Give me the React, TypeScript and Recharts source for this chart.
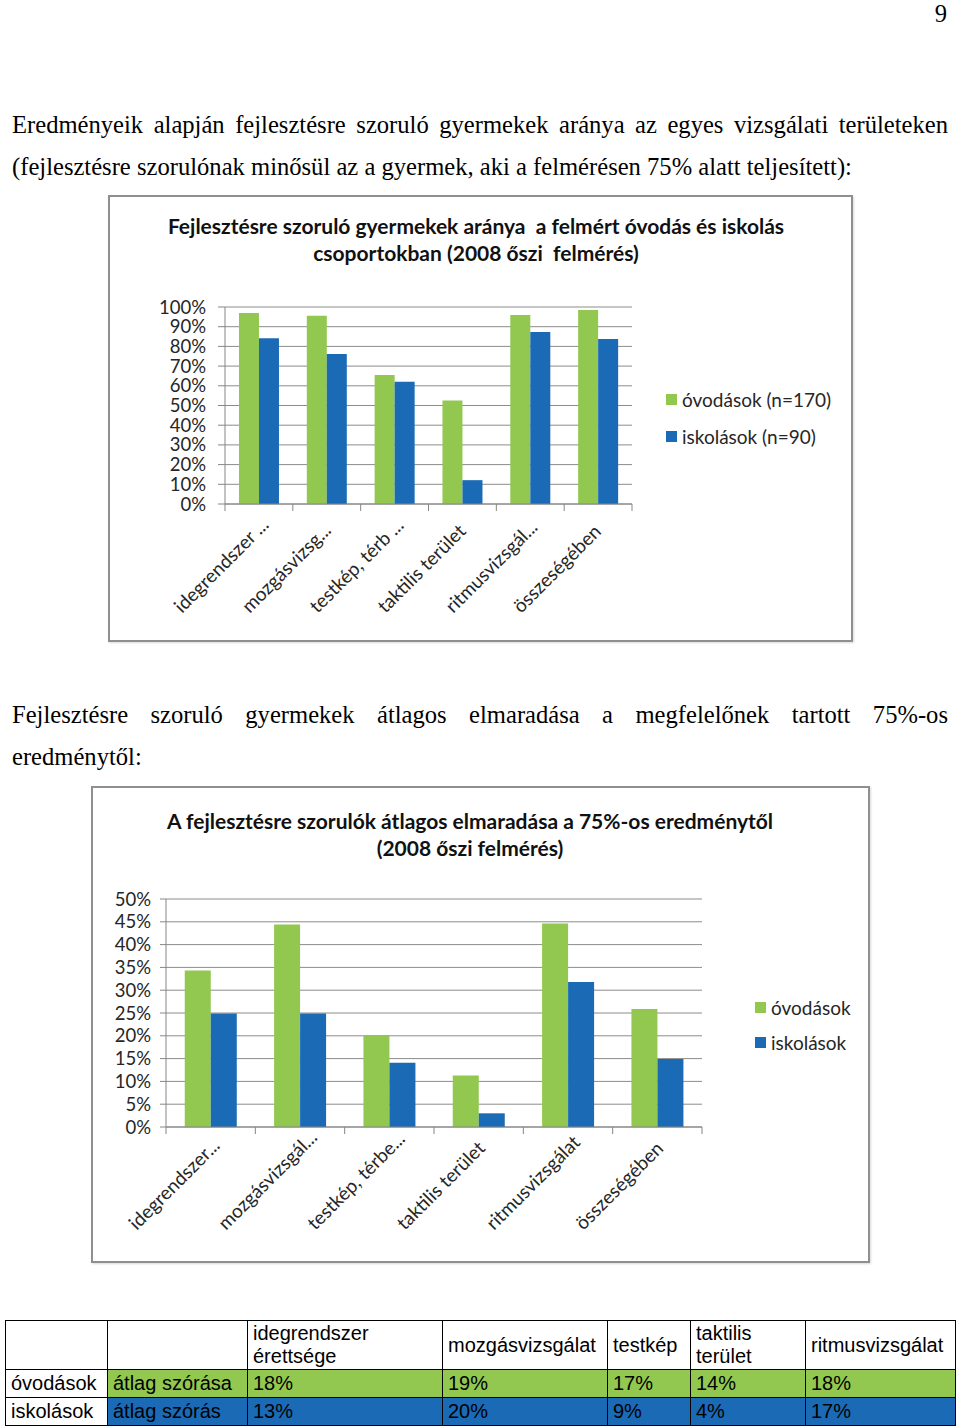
import React from "react";
import { BarChart, Bar, XAxis, YAxis, CartesianGrid } from "recharts";

// chart 1: share of children needing development
const chart1Categories = [
  "idegrendszer ...",
  "mozgásvizsg...",
  "testkép, térb ...",
  "taktilis terület",
  "ritmusvizsgál...",
  "összeségében",
];
const chart1Series = ["óvodások (n=170)", "iskolások (n=90)"];
const chart1Ovodasok = [0.97, 0.956, 0.655, 0.526, 0.959, 0.985];
const chart1Iskolasok = [0.842, 0.762, 0.621, 0.121, 0.873, 0.837];
const chart1Ticks = [0, 0.1, 0.2, 0.3, 0.4, 0.5, 0.6, 0.7, 0.8, 0.9, 1];

// chart 2: average shortfall from the 75% result
const chart2Categories = [
  "idegrendszer...",
  "mozgásvizsgál...",
  "testkép, térbe...",
  "taktilis terület",
  "ritmusvizsgálat",
  "összeségében",
];
const chart2Series = ["óvodások", "iskolások"];
const chart2Ovodasok = [0.343, 0.444, 0.202, 0.113, 0.446, 0.259];
const chart2Iskolasok = [0.249, 0.249, 0.141, 0.03, 0.318, 0.149];
const chart2Ticks = [0, 0.05, 0.1, 0.15, 0.2, 0.25, 0.3, 0.35, 0.4, 0.45, 0.5];

// table under the charts
const tableColumns = [
  ["idegrendszer", "érettsége"],
  ["mozgásvizsgálat"],
  ["testkép"],
  ["taktilis", "terület"],
  ["ritmusvizsgálat"],
];
const tableColWidths = [102, 140, 195, 165, 83, 115, 150];
const tableOvodasok = ["18%", "19%", "17%", "14%", "18%"];
const tableIskolasok = ["13%", "20%", "9%", "4%", "17%"];

const GREEN = "#92C850";
const BLUE = "#1A6AB6";
const AXIS = "#868686";
const GRID = "#8c8c8c";
const TEXT = "#262626";
const CHART_FONT = "Lato, 'Open Sans', sans-serif";
const SERIF = "'Liberation Serif', 'Times New Roman', serif";
const SERIF_SIZE = 24.6;

const pct = (v: number) => `${Math.round(v * 100)}%`;

function makeTick(band: number, count: number, dx: number, dy: number) {
  return (props: any) => {
    const { x, y, payload, index } = props;
    const tx = x + dx;
    const ty = y + dy;
    return (
      <g>
        <line x1={x - band / 2} x2={x - band / 2} y1={y} y2={y + 7} stroke={AXIS} />
        {index === count - 1 && (
          <line x1={x + band / 2} x2={x + band / 2} y1={y} y2={y + 7} stroke={AXIS} />
        )}
        <text
          x={tx}
          y={ty}
          transform={`rotate(-45, ${tx}, ${ty})`}
          textAnchor="start"
          fontSize={19}
          fill={TEXT}
          fontFamily={CHART_FONT}
        >
          {payload.value}
        </text>
      </g>
    );
  };
}

const LegendBox = ({ names, left, top, rowHeight }: any) => (
  <div
    style={{
      position: "absolute",
      left,
      top,
      fontFamily: CHART_FONT,
      fontSize: 19,
      color: TEXT,
    }}
  >
    {names.map((n: string, i: number) => (
      <div
        key={n}
        style={{ display: "flex", alignItems: "center", height: rowHeight, whiteSpace: "nowrap" }}
      >
        <span
          style={{
            width: 11,
            height: 11,
            background: i === 0 ? GREEN : BLUE,
            marginRight: 5,
            display: "inline-block",
          }}
        />
        {n}
      </div>
    ))}
  </div>
);

const Title = ({ lines, center, top }: { lines: string[]; center: number; top: number }) => (
  <div
    style={{
      position: "absolute",
      left: center - 400,
      width: 800,
      top,
      textAlign: "center",
      fontFamily: CHART_FONT,
      fontWeight: 700,
      fontSize: 21,
      lineHeight: "27px",
      color: "#111",
    }}
  >
    {lines.map((l) => (
      <div key={l} style={{ whiteSpace: "pre" }}>{l}</div>
    ))}
  </div>
);

const Frame = ({ left, top, width, height, children }: any) => (
  <div style={{ position: "absolute", left, top, width, height }}>
    <div
      style={{
        position: "absolute",
        inset: 0,
        border: "2px solid #8f8f8f",
        boxSizing: "border-box",
        boxShadow: "1px 1px 2px rgba(0,0,0,0.15)",
      }}
    />
    {children}
  </div>
);

function Chart1() {
  const data = chart1Categories.map((name, i) => ({
    name,
    ovodasok: chart1Ovodasok[i],
    iskolasok: chart1Iskolasok[i],
  }));
  const band = 407 / chart1Categories.length;
  return (
    <Frame left={108} top={195} width={745} height={447}>
      <Title
        lines={["Fejlesztésre szoruló gyermekek aránya  a felmért óvodás és iskolás", "csoportokban (2008 őszi  felmérés)"]}
        center={368}
        top={17}
      />
      <div style={{ position: "absolute", left: 0, top: 0 }}>
        <BarChart
          width={745}
          height={447}
          data={data}
          margin={{ top: 112, right: 221, bottom: 10, left: 47 }}
          barCategoryGap="20.6%"
          barGap={0}
        >
          <CartesianGrid vertical={false} stroke={GRID} />
          <XAxis
            dataKey="name"
            interval={0}
            height={128}
            tickSize={0}
            tickMargin={0}
            tickLine={false}
            axisLine={{ stroke: AXIS }}
            tick={makeTick(band, chart1Categories.length, -77, 110)}
          />
          <YAxis
            type="number"
            domain={[0, 1]}
            ticks={chart1Ticks}
            interval={0}
            width={70}
            tickSize={7}
            tickMargin={12}
            tickFormatter={pct}
            axisLine={{ stroke: AXIS }}
            tickLine={{ stroke: AXIS }}
            tick={{ fontSize: 18.5, fill: TEXT, fontFamily: CHART_FONT }}
          />
          <Bar dataKey="ovodasok" name={chart1Series[0]} fill={GREEN} isAnimationActive={false} />
          <Bar dataKey="iskolasok" name={chart1Series[1]} fill={BLUE} isAnimationActive={false} />
        </BarChart>
      </div>
      <LegendBox names={chart1Series} left={558} top={186} rowHeight={37} />
    </Frame>
  );
}

function Chart2() {
  const data = chart2Categories.map((name, i) => ({
    name,
    ovodasok: chart2Ovodasok[i],
    iskolasok: chart2Iskolasok[i],
  }));
  const band = 536 / chart2Categories.length;
  return (
    <Frame left={91} top={786} width={779} height={477}>
      <Title
        lines={["A fejlesztésre szorulók átlagos elmaradása a 75%-os eredménytől", "(2008 őszi felmérés)"]}
        center={379}
        top={21}
      />
      <div style={{ position: "absolute", left: 0, top: 0 }}>
        <BarChart
          width={779}
          height={477}
          data={data}
          margin={{ top: 113, right: 168, bottom: 10, left: 10 }}
          barCategoryGap="21%"
          barGap={0}
        >
          <CartesianGrid vertical={false} stroke={GRID} />
          <XAxis
            dataKey="name"
            interval={0}
            height={126}
            tickSize={0}
            tickMargin={0}
            tickLine={false}
            axisLine={{ stroke: AXIS }}
            tick={makeTick(band, chart2Categories.length, -74, 104)}
          />
          <YAxis
            type="number"
            domain={[0, 0.5]}
            ticks={chart2Ticks}
            interval={0}
            width={65}
            tickSize={6}
            tickMargin={9}
            tickFormatter={pct}
            axisLine={{ stroke: AXIS }}
            tickLine={{ stroke: AXIS }}
            tick={{ fontSize: 18.5, fill: TEXT, fontFamily: CHART_FONT }}
          />
          <Bar dataKey="ovodasok" name={chart2Series[0]} fill={GREEN} isAnimationActive={false} />
          <Bar dataKey="iskolasok" name={chart2Series[1]} fill={BLUE} isAnimationActive={false} />
        </BarChart>
      </div>
      <LegendBox names={chart2Series} left={664} top={203.5} rowHeight={35} />
    </Frame>
  );
}

const TextLine = ({ text, top, justify }: { text: string; top: number; justify?: boolean }) => (
  <div
    style={{
      position: "absolute",
      left: 12,
      width: 936,
      top,
      fontFamily: SERIF,
      fontSize: SERIF_SIZE,
      lineHeight: "26px",
      color: "#000",
      whiteSpace: "nowrap",
      textAlign: justify ? "justify" : "left",
      textAlignLast: justify ? "justify" : "left",
    }}
  >
    {text}
  </div>
);

function DataTable() {
  const cell: React.CSSProperties = {
    border: "1px solid #000",
    padding: "0 5px",
    textAlign: "left",
    verticalAlign: "middle",
    fontWeight: 400,
  };
  return (
    <table
      style={{
        position: "absolute",
        left: 5,
        top: 1320,
        width: 950,
        borderCollapse: "collapse",
        tableLayout: "fixed",
        fontFamily: "'Liberation Sans', Arial, sans-serif",
        fontSize: 20,
        lineHeight: "23px",
        color: "#000",
      }}
    >
      <colgroup>
        {tableColWidths.map((w, i) => (
          <col key={i} style={{ width: w }} />
        ))}
      </colgroup>
      <tbody>
        <tr style={{ height: 49 }}>
          <th style={cell} />
          <th style={cell} />
          {tableColumns.map((c) => (
            <th key={c.join(" ")} style={cell}>
              {c.map((part, i) => (
                <div key={i}>{part}</div>
              ))}
            </th>
          ))}
        </tr>
        <tr style={{ height: 28 }}>
          <td style={cell}>óvodások</td>
          <td style={{ ...cell, background: GREEN }}>átlag szórása</td>
          {tableOvodasok.map((v, i) => (
            <td key={i} style={{ ...cell, background: GREEN }}>{v}</td>
          ))}
        </tr>
        <tr style={{ height: 28 }}>
          <td style={cell}>iskolások</td>
          <td style={{ ...cell, background: BLUE }}>átlag szórás</td>
          {tableIskolasok.map((v, i) => (
            <td key={i} style={{ ...cell, background: BLUE }}>{v}</td>
          ))}
        </tr>
      </tbody>
    </table>
  );
}

export default function App() {
  return (
    <div
      style={{
        position: "absolute",
        left: 0,
        top: 0,
        width: 960,
        height: 1428,
        background: "#fff",
        overflow: "hidden",
      }}
    >
      <div
        style={{
          position: "absolute",
          left: 900,
          width: 47,
          top: 0,
          textAlign: "right",
          fontFamily: SERIF,
          fontSize: SERIF_SIZE,
          lineHeight: "normal",
        }}
      >
        9
      </div>
      <TextLine
        top={112}
        justify
        text="Eredményeik alapján fejlesztésre szoruló gyermekek aránya az egyes vizsgálati területeken"
      />
      <TextLine
        top={154}
        text="(fejlesztésre szorulónak minősül az a gyermek, aki a felmérésen 75% alatt teljesített):"
      />
      <Chart1 />
      <TextLine
        top={702}
        justify
        text="Fejlesztésre szoruló gyermekek átlagos elmaradása a megfelelőnek tartott 75%-os"
      />
      <TextLine top={744} text="eredménytől:" />
      <Chart2 />
      <DataTable />
    </div>
  );
}
